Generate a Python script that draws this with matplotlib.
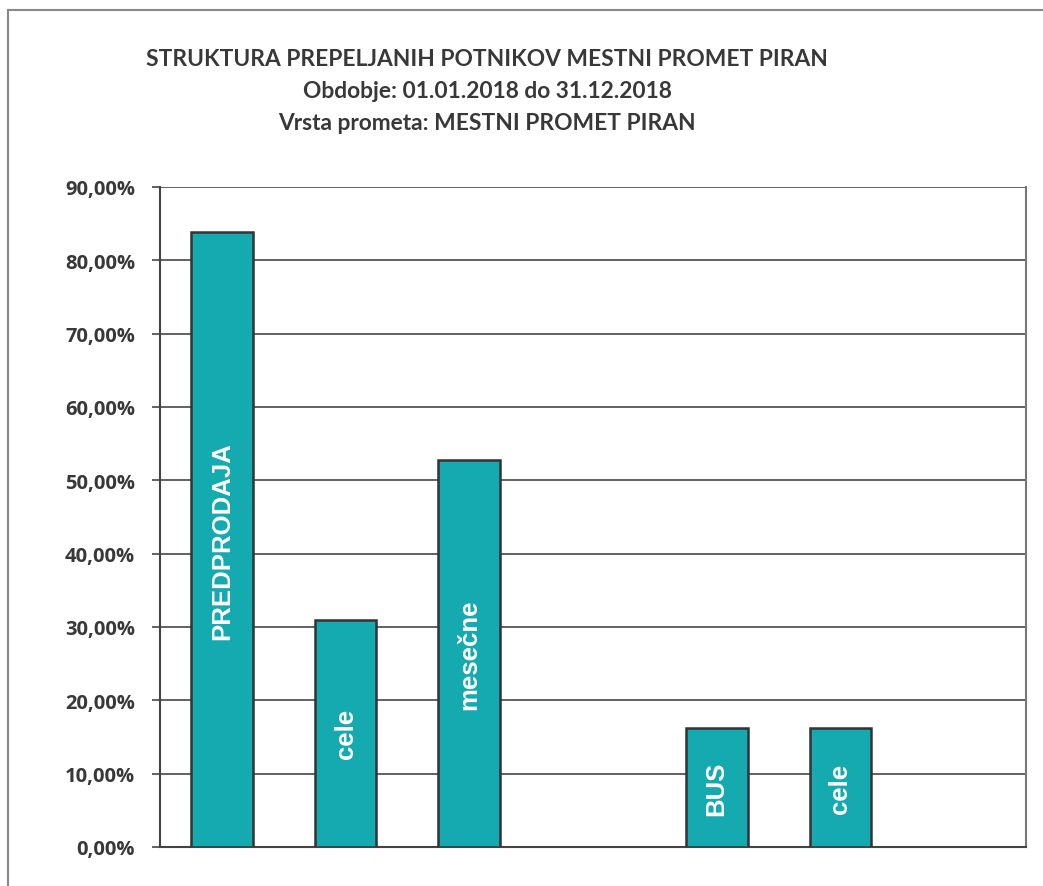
import numpy as np
import matplotlib
matplotlib.use('Agg')
import matplotlib.pyplot as plt
from matplotlib.lines import Line2D

# data (slots 3 and 6 are empty)
labels = ['PREDPRODAJA', 'cele', 'mesečne', '', 'BUS', 'cele', '']
values = [83.8, 31.0, 52.8, 0.0, 16.2, 16.2, 0.0]
yticks = [0, 10, 20, 30, 40, 50, 60, 70, 80, 90]
title_lines = ['STRUKTURA PREPELJANIH POTNIKOV MESTNI PROMET PIRAN',
               'Obdobje: 01.01.2018 do 31.12.2018',
               'Vrsta prometa: MESTNI PROMET PIRAN']

bar_color = '#14AAB0'
txt_color = '#383838'

fig = plt.figure(figsize=(10.43, 8.87), dpi=100)
ax = fig.add_axes([160/1043, 1-848/887, (1026-160)/1043, (848-188)/887])

x = np.arange(len(labels))
mask = [v > 0 for v in values]
xs = x[mask]
vs = np.array(values)[mask]
ax.bar(xs, vs, width=0.5, color=bar_color, edgecolor='#333333', linewidth=1.8, zorder=3)

for xi, v, lab in zip(x, values, labels):
    if v > 0:
        ax.text(xi, v/2, lab, rotation=90, ha='center', va='center', color='white',
                fontsize=18.5, fontweight='bold', family='Liberation Sans', zorder=4)

ax.set_xlim(-0.5, len(labels)-0.5)
ax.set_ylim(0, 90)
ax.set_yticks(yticks)
ax.set_yticklabels(['%d,00%%' % t for t in yticks], fontsize=14.5, fontweight='bold',
                   family='Open Sans', color=txt_color)
ax.set_xticks([])
ax.yaxis.grid(True, color='#555555', linewidth=1.3, zorder=0)
ax.tick_params(axis='y', length=6, width=1.3, color='#555555', pad=12)
for s in ['left', 'bottom']:
    ax.spines[s].set_color('#444444')
    ax.spines[s].set_linewidth(1.5)
ax.spines['top'].set_visible(False)
ax.spines['right'].set_color('#777777')
ax.spines['right'].set_linewidth(1.5)

# title block
ys = [60, 92, 124]
for t, yy in zip(title_lines, ys):
    fig.text(487/1043, 1-yy/887, t, ha='center', va='center', fontsize=16.4,
             fontweight='bold', family='Lato', color=txt_color)

# outer frame of the scanned page
fig.add_artist(Line2D([8/1043, 8/1043], [0, 1-11/887], color='#888888', lw=1.5))
fig.add_artist(Line2D([8/1043, 1], [1-11/887, 1-11/887], color='#888888', lw=1.5))

fig.savefig('out.png', dpi=100)
